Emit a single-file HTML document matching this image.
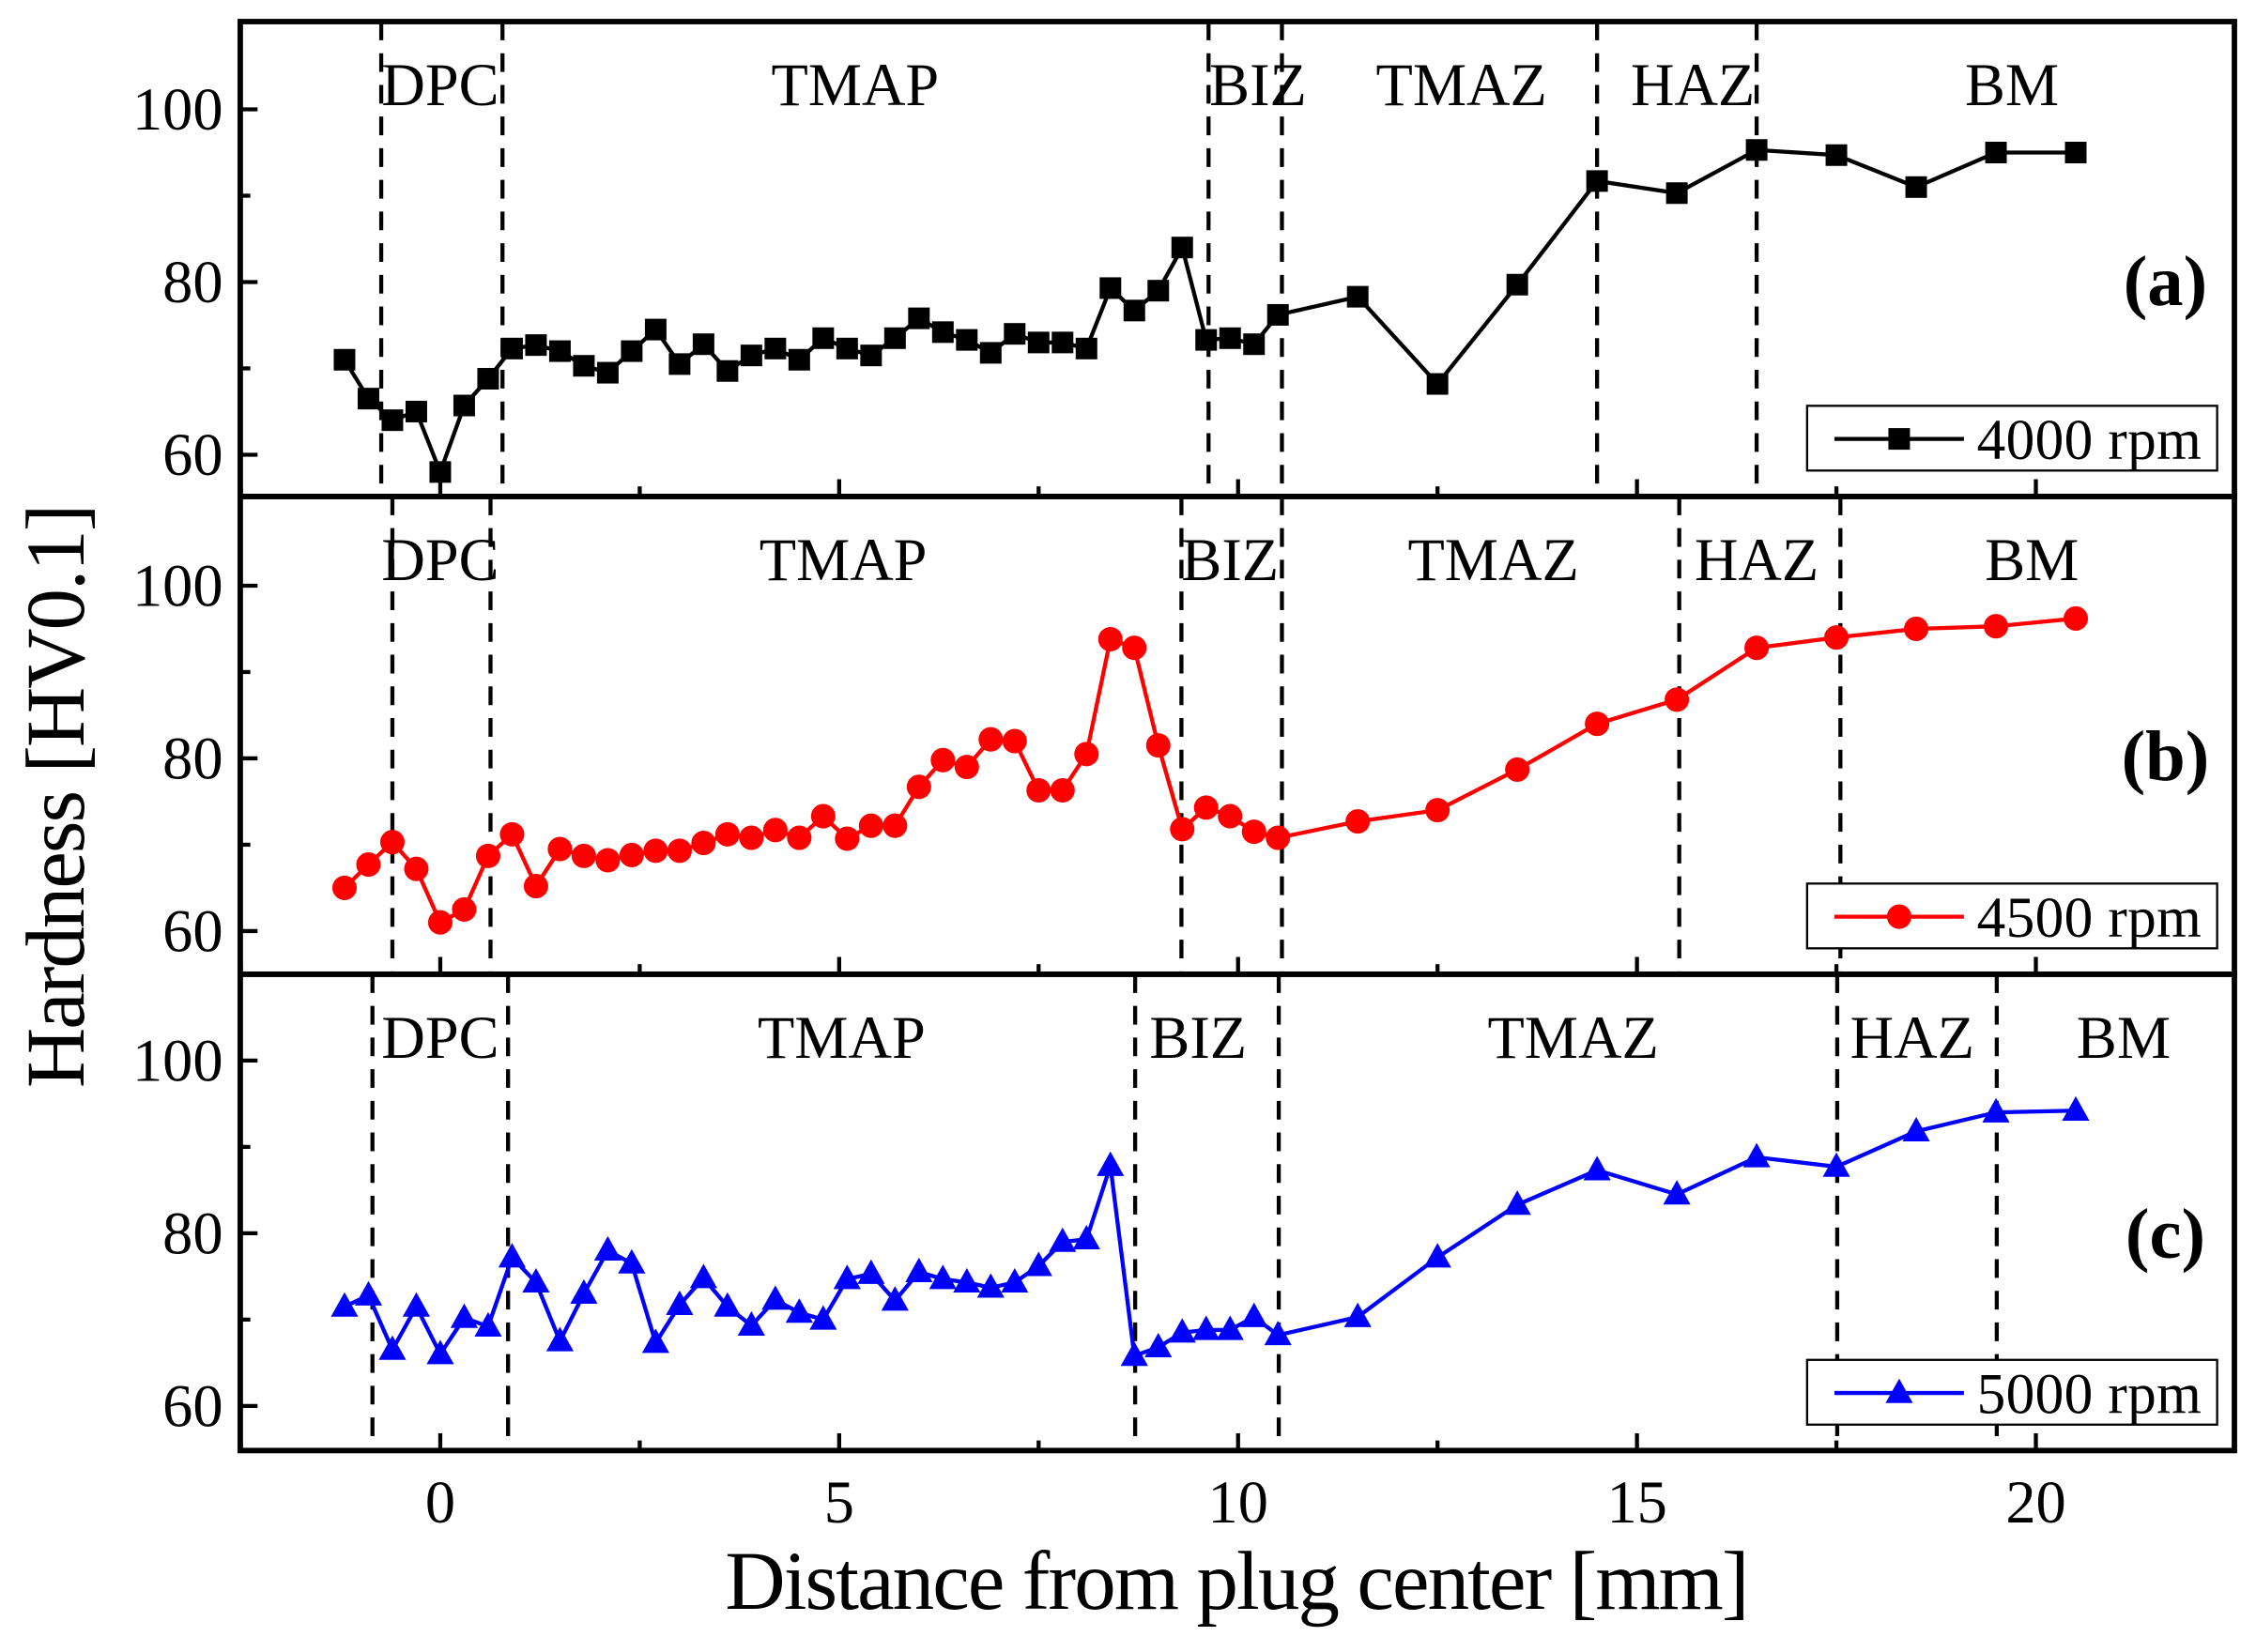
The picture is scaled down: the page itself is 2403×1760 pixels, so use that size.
<!DOCTYPE html>
<html><head><meta charset="utf-8"><style>
html,body{margin:0;padding:0;background:#fff;}
svg{display:block;font-family:"Liberation Serif","Times New Roman",serif;}
</style></head><body>
<svg id="chart" width="2403" height="1760" viewBox="0 0 1568 1148" preserveAspectRatio="none" xmlns="http://www.w3.org/2000/svg"></svg>
<script>
const xs = [-1.2,-0.9,-0.6,-0.3,0,0.3,0.6,0.9,1.2,1.5,1.8,2.1,2.4,2.7,3.0,3.3,3.6,3.9,4.2,4.5,4.8,5.1,5.4,5.7,6.0,6.3,6.6,6.9,7.2,7.5,7.8,8.1,8.4,8.7,9.0,9.3,9.6,9.9,10.2,10.5,11.5,12.5,13.5,14.5,15.5,16.5,17.5,18.5,19.5,20.5];
const valsA = [71,66.5,64,65,58,65.7,68.8,72.3,72.7,72,70.3,69.5,72,74.5,70.5,72.8,69.7,71.5,72.3,71,73.5,72.3,71.5,73.5,75.8,74.2,73.3,71.8,74,73,73,72.3,79.3,76.7,79,84,73.3,73.5,72.8,76.2,78.3,68.2,79.7,91.7,90.3,95.3,94.7,91,95,95];
const valsB = [65,67.7,70.3,67.2,61,62.5,68.7,71.2,65.2,69.5,68.7,68.2,68.8,69.3,69.3,70.2,71.2,70.8,71.7,70.8,73.3,70.7,72.2,72.2,76.7,79.8,79,82.2,82,76.3,76.3,80.5,93.8,92.8,81.5,71.8,74.3,73.3,71.5,70.8,72.7,74,78.7,84,86.8,92.8,94,95,95.3,96.2];
const valsC = [71.5,72.8,66.5,71.5,66,70.2,69.2,77.2,74.3,67.5,73,78,76.5,67.3,71.7,74.8,71.5,69.3,72.3,70.8,70,74.7,75.3,72.2,75.5,74.7,74.3,73.7,74.3,76.2,79,79.3,87.8,65.8,66.8,68.5,68.8,68.8,70.3,68.2,70.3,77.2,83.3,87.3,84.5,88.8,87.7,91.8,94,94.2];
const boundsA = [-0.74,0.78,9.63,10.55,14.5,16.5];
const boundsB = [-0.6,0.63,9.29,10.55,15.53,17.55];
const boundsC = [-0.85,0.85,8.71,10.51,17.51,19.51];
const zoneNames = ["DPC","TMAP","BIZ","TMAZ","HAZ","BM"];
const zoneXA = [0,5.2,10.25,12.8,15.7,19.7];
const zoneXB = [0,5.05,9.9,13.2,16.5,19.95];
const zoneXC = [0,5.03,9.5,14.2,18.45,21.1];
const xTicks = [0,5,10,15,20];
const yTicks = [60,80,100];
const legendLabels = ["4000 rpm","4500 rpm","5000 rpm"];
const panelLabels = ["(a)","(b)","(c)"];

const NS="http://www.w3.org/2000/svg";
const svg=document.getElementById('chart');
const L=167,R=1553;
const X=v=>306+v*55.45;
function mk(tag,at,parent){const e=document.createElementNS(NS,tag);for(const k in at)e.setAttribute(k,at[k]);(parent||svg).appendChild(e);return e;}
const panels=[
 {top:15,bot:345,y100:76,vals:valsA,bounds:boundsA,zx:zoneXA,color:"#000",marker:"sq",name:"panel-a"},
 {top:345,bot:677,y100:407,vals:valsB,bounds:boundsB,zx:zoneXB,color:"#f00",marker:"ci",name:"panel-b"},
 {top:677,bot:1008,y100:737,vals:valsC,bounds:boundsC,zx:zoneXC,color:"#00f",marker:"tr",name:"panel-c"}];
function marker(type,cx,cy,color,g){
 let m;
 if(type==="sq") m=mk('rect',{x:cx-7.5,y:cy-7.5,width:15,height:15,fill:color},g);
 else if(type==="ci") m=mk('circle',{cx:cx,cy:cy,r:8.5,fill:color},g);
 else m=mk('polygon',{points:`${cx},${cy-10} ${cx-9.5},${cy+7} ${cx+9.5},${cy+7}`,fill:color},g);
 return m;
}
panels.forEach((p,i)=>{
 const Y=v=>p.y100+(100-v)*6;
 const g=mk('g',{});
 
 
 [60,70,80,90,100].forEach(v=>{const maj=v%20===0;mk('line',{x1:L,x2:L+(maj?12:7),y1:Y(v),y2:Y(v),stroke:'#000','stroke-width':2.8},g);});
 yTicks.forEach(v=>{const t=mk('text',{x:155,y:Y(v)+14,'text-anchor':'end','font-size':42},g);t.textContent=v;
  });
 for(let v=-2.5;v<=22.5;v+=2.5){if(X(v)<L||X(v)>R)continue;const maj=v%5===0;mk('line',{x1:X(v),x2:X(v),y1:p.bot,y2:p.bot-(maj?12:7),stroke:'#000','stroke-width':2.8},g);}
 p.bounds.forEach(b=>{const l=mk('line',{x1:X(b),x2:X(b),y1:p.top,y2:p.bot,stroke:'#000','stroke-width':2.8,'stroke-dasharray':'13,9'},g);
  });
 zoneNames.forEach((z,k)=>{const t=mk('text',{x:X(p.zx[k]),y:p.top+58,'text-anchor':'middle','font-size':42},g);t.textContent=z;
  });
 const pts=xs.map((x,k)=>X(x)+','+Y(p.vals[k])).join(' ');
 const pl=mk('polyline',{points:pts,fill:'none',stroke:p.color,'stroke-width':2.8},g);
 
 xs.forEach((x,k)=>{const m=marker(p.marker,X(x),Y(p.vals[k]),p.color,g);
  });
 const pt=mk('text',{x:1505,y:p.top+197,'text-anchor':'middle','font-size':50,'font-weight':'bold'},g);pt.textContent=panelLabels[i];
 
 const lg=mk('g',{},g);
 
 const ly=p.bot-40;
 mk('rect',{x:1256,y:ly-23,width:285,height:45,fill:'#fff',stroke:'#000','stroke-width':1.5},lg);
 mk('line',{x1:1275,x2:1365,y1:ly,y2:ly,stroke:p.color,'stroke-width':2.8},lg);
 marker(p.marker,1320,ly,p.color,lg);
 const lt=mk('text',{x:1374,y:ly+14,'font-size':40,textLength:156},lg);lt.textContent=legendLabels[i];
});
panels.forEach(p=>{mk('rect',{x:L,y:p.top,width:R-L,height:p.bot-p.top,fill:'none',stroke:'#000','stroke-width':3.8});});
xTicks.forEach(v=>{const t=mk('text',{x:X(v),y:1058,'text-anchor':'middle','font-size':42});t.textContent=v;
 });
const xt=mk('text',{x:860,y:1118,'text-anchor':'middle','font-size':58,textLength:712});xt.textContent='Distance from plug center [mm]';

const yt=mk('text',{x:0,y:0,'text-anchor':'middle','font-size':58,textLength:406,transform:'translate(58,553) rotate(-90)'});yt.textContent='Hardness [HV0.1]';

</script>
</body></html>
